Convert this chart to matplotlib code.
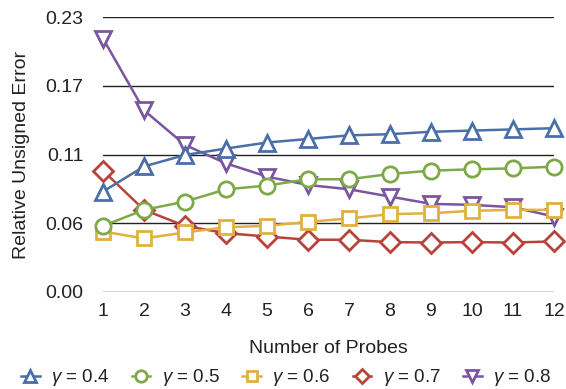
import matplotlib
matplotlib.use("Agg")
import matplotlib.pyplot as plt
import numpy as np

plt.rcParams['font.family'] = ['Liberation Sans', 'DejaVu Sans']
plt.rcParams['mathtext.fontset'] = 'custom'
plt.rcParams['mathtext.it'] = 'Liberation Sans:italic'
plt.rcParams['mathtext.rm'] = 'Liberation Sans'

# data
probes = np.arange(1, 13)
err_04 = [0.084, 0.105, 0.1146, 0.120, 0.125, 0.128, 0.131, 0.132, 0.134, 0.135, 0.136, 0.137]
err_05 = [0.0553, 0.0687, 0.0756, 0.0859, 0.089, 0.0943, 0.0943, 0.0987, 0.1015, 0.1026, 0.1034, 0.1048]
err_06 = [0.0506, 0.0448, 0.0498, 0.0542, 0.0553, 0.0587, 0.0615, 0.0651, 0.0659, 0.0679, 0.0687, 0.0687]
err_07 = [0.1015, 0.0687, 0.0553, 0.0492, 0.0464, 0.0437, 0.0437, 0.0417, 0.0414, 0.0417, 0.0414, 0.0423]
err_08 = [0.212, 0.152, 0.123, 0.1076, 0.0965, 0.0895, 0.0859, 0.0798, 0.0737, 0.0729, 0.0709, 0.0631]

labels = [r'$\gamma$ = 0.4', r'$\gamma$ = 0.5', r'$\gamma$ = 0.6', r'$\gamma$ = 0.7', r'$\gamma$ = 0.8']
yticks = [0.0, 0.0575, 0.115, 0.1725, 0.23]
ytick_labels = ['0.00', '0.06', '0.11', '0.17', '0.23']

series = [err_04, err_05, err_06, err_07, err_08]
colors = ['#4A6FA8', '#7DAA46', '#E1B03E', '#B8433A', '#7A55A0']
markers = ['^', 'o', 's', 'D', 'v']
msizes = [11, 11, 10.5, 10, 11]

fig = plt.figure(figsize=(5.66, 3.89), dpi=100)
ax = fig.add_axes([103/566, 1 - 292/389, (554-103)/566, (292-17)/389])

n = len(series)
for i, (vals, c, m, ms, lab) in enumerate(zip(series, colors, markers, msizes, labels)):
  ax.plot(probes, vals, color=c, lw=1.8, marker=m, ms=ms, mew=2.0,
          mfc='white', mec=c, label=lab, clip_on=False, zorder=3 + (n - i))

ax.set_xlim(1, 12)
ax.set_ylim(0, 0.23)
ax.set_yticks(yticks)
ax.set_yticklabels(ytick_labels)
ax.set_xticks(probes)
ax.yaxis.grid(True, color='#222222', lw=1.0)
ax.set_axisbelow(True)
for s in ax.spines.values():
  s.set_visible(False)
ax.tick_params(axis='both', length=0, labelsize=14, colors='#222222')
ax.tick_params(axis='y', pad=14)
ax.tick_params(axis='x', pad=8)

ax.set_ylabel('Relative Unsigned Error', fontsize=14, color='#222222', labelpad=11)
ax.set_xlabel('Number of Probes', fontsize=14, color='#222222', labelpad=14)

leg = ax.legend(loc='center', bbox_to_anchor=(286/566, 1 - 378/389), bbox_transform=fig.transFigure,
                ncol=5, frameon=False, fontsize=13.5, markerscale=0.75, handlelength=1.0,
                handletextpad=0.6, columnspacing=1.2, borderpad=0.0)
for t in leg.get_texts():
  t.set_color('#222222')

fig.savefig('out.png', dpi=100)
